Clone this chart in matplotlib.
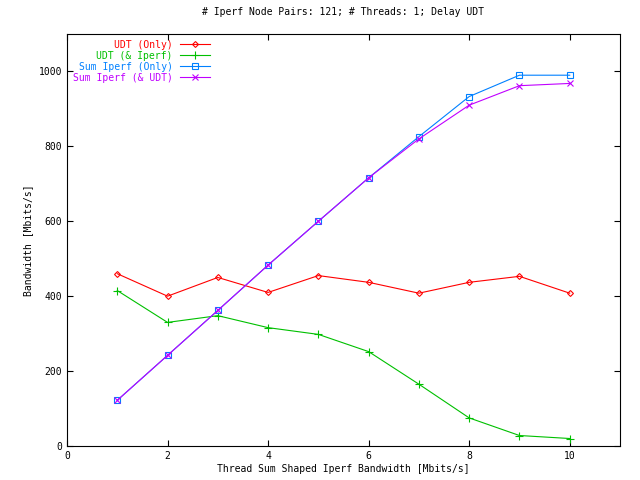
import matplotlib
matplotlib.use("Agg")
import matplotlib.pyplot as plt

x = [1, 2, 3, 4, 5, 6, 7, 8, 9, 10]
udt_only = [460, 400, 450, 410, 455, 437, 408, 437, 453, 408]
udt_iperf = [415, 330, 348, 316, 298, 252, 165, 75, 28, 20]
iperf_only = [122, 242, 362, 483, 600, 716, 826, 933, 990, 990]
iperf_udt = [122, 242, 362, 483, 600, 716, 820, 910, 962, 968]

plt.rcParams["font.family"] = "DejaVu Sans Mono"
plt.rcParams["font.size"] = 7

fig = plt.figure(figsize=(6.4, 4.8), dpi=100)
ax = fig.add_axes([67 / 640, 34 / 480, 553 / 640, 412 / 480])

series = [
    ("UDT (Only)", udt_only, "red", "D", 3),
    ("UDT (& Iperf)", udt_iperf, "#00c000", "+", 6),
    ("Sum Iperf (Only)", iperf_only, "#0080ff", "s", 5),
    ("Sum Iperf (& UDT)", iperf_udt, "#c000ff", "x", 5),
]
for label, vals, color, marker, ms in series:
    ax.plot(x, vals, color=color, lw=0.8, marker=marker, ms=ms,
            mfc="none", mec=color, mew=0.8, label=label)

ax.set_xlim(0, 11)
ax.set_ylim(0, 1100)
ax.set_xticks([0, 2, 4, 6, 8, 10])
ax.set_yticks([0, 200, 400, 600, 800, 1000])
ax.tick_params(direction="in", length=4, top=True, right=True)
ax.set_xlabel("Thread Sum Shaped Iperf Bandwidth [Mbits/s]", labelpad=2)
ax.set_ylabel("Bandwidth [Mbits/s]")
ax.set_title("# Iperf Node Pairs: 121; # Threads: 1; Delay UDT", fontsize=7, pad=14)

leg = ax.legend(loc="upper left", frameon=False, markerfirst=False,
                handlelength=3, borderaxespad=0.2, labelspacing=0.1,
                bbox_to_anchor=(0.0, 1.0))
for text, s in zip(leg.get_texts(), series):
    text.set_color(s[2])
    text.set_ha("right")
leg._legend_box.align = "right"

fig.savefig("out.png", dpi=100)
